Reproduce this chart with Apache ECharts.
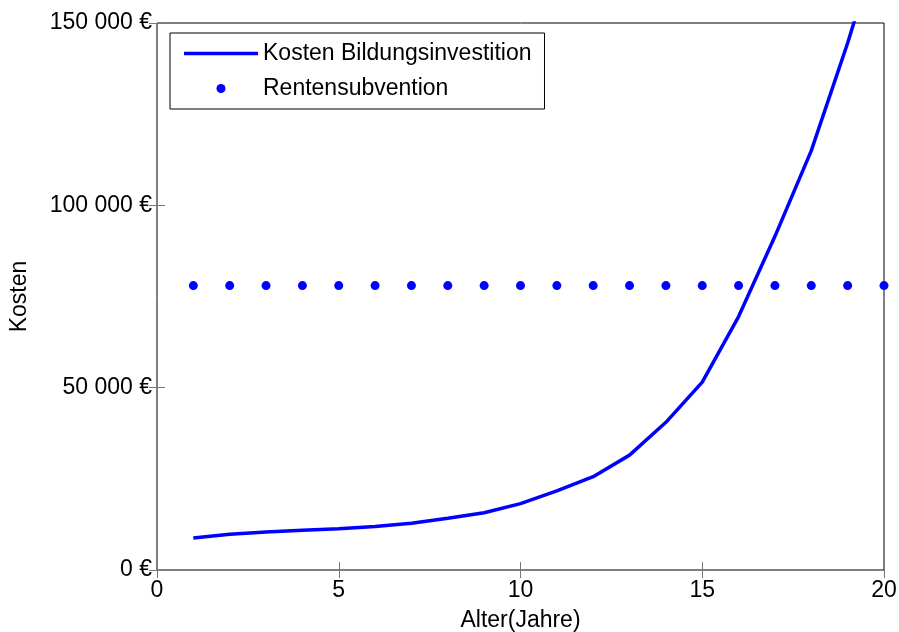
<!DOCTYPE html>
<html><head><meta charset="utf-8">
<script src="https://cdn.jsdelivr.net/npm/echarts@6/dist/echarts.min.js"></script>
<style>html,body{margin:0;padding:0;background:#fff;overflow:hidden}#c{width:899px;height:632px}</style>
</head><body><div id="c"></div>
<script>
const ages = [1,2,3,4,5,6,7,8,9,10,11,12,13,14,15,16,17,18,19,20];
const kostenBildung = [8800,9800,10400,10900,11300,11900,12800,14200,15700,18200,21700,25600,31500,40500,51500,69500,91500,115000,144500,177000];
const rentenSubvention = [78000,78000,78000,78000,78000,78000,78000,78000,78000,78000,78000,78000,78000,78000,78000,78000,78000,78000,78000,78000];
const seriesNames = ['Kosten Bildungsinvestition','Rentensubvention'];
const xLabel = 'Alter(Jahre)';
const yLabel = 'Kosten';

const FONT = 'Liberation Sans, Arial, sans-serif';
const FS = 23;
const fmtEuro = v => {
  const s = String(Math.round(v));
  return s.replace(/\B(?=(\d{3})+(?!\d))/g, ' ') + ' €';
};
const chart = echarts.init(document.getElementById('c'), null, {renderer:'canvas', width:899, height:632});
const tick = () => ({show:true, inside:true, length:8, lineStyle:{color:'#777', width:1}});
chart.setOption({
  animation:false,
  backgroundColor:'#fff',
  textStyle:{fontFamily:FONT},
  grid:{left:157, right:15, top:23, bottom:62, containLabel:false, outerBoundsMode:'none',
        show:true, borderColor:'#000', borderWidth:1, backgroundColor:'transparent'},
  legend:{
    orient:'vertical', left:170, top:33,
    backgroundColor:'#fff', borderColor:'#000', borderWidth:1,
    padding:[9, 13, 9, 14], itemGap:12, itemWidth:74, itemHeight:9,
    textStyle:{fontFamily:FONT, fontSize:FS, color:'#000'},
    data:[
      {name:seriesNames[0], icon:'path://M0 0 H72 V3.5 H0 Z', itemStyle:{color:'#0000ff'}},
      {name:seriesNames[1], icon:'circle', itemStyle:{color:'#0000ff'}}
    ]
  },
  xAxis:[{
    type:'value', min:0, max:20, interval:5, position:'bottom',
    name:xLabel, nameLocation:'middle', nameGap:39,
    nameTextStyle:{fontFamily:FONT, fontSize:FS, color:'#000'},
    axisLine:{show:false}, axisTick:tick(), splitLine:{show:false},
    axisLabel:{fontFamily:FONT, fontSize:FS, color:'#000', margin:9}
  },{
    type:'value', min:0, max:20, interval:5, position:'top',
    axisLine:{show:false}, axisTick:tick(), splitLine:{show:false}, axisLabel:{show:false}
  }],
  yAxis:[{
    type:'value', min:0, max:150000, interval:50000, position:'left',
    name:yLabel, nameLocation:'middle', nameGap:126, nameRotate:90,
    nameTextStyle:{fontFamily:FONT, fontSize:FS, color:'#000'},
    axisLine:{show:false}, axisTick:tick(), splitLine:{show:false},
    axisLabel:{fontFamily:FONT, fontSize:FS, color:'#000', margin:5, formatter:fmtEuro}
  },{
    type:'value', min:0, max:150000, interval:50000, position:'right',
    axisLine:{show:false}, axisTick:tick(), splitLine:{show:false}, axisLabel:{show:false}
  }],
  series:[{
    name:seriesNames[0], type:'line', xAxisIndex:0, yAxisIndex:0,
    data:ages.map((a,i)=>[a,kostenBildung[i]]),
    symbol:'none', clip:true,
    lineStyle:{color:'#0000ff', width:3.5}, itemStyle:{color:'#0000ff'}
  },{
    name:seriesNames[1], type:'scatter', xAxisIndex:0, yAxisIndex:0,
    data:ages.map((a,i)=>[a,rentenSubvention[i]]),
    symbol:'circle', symbolSize:9, clip:false,
    itemStyle:{color:'#0000ff', opacity:1}
  },{
    type:'line', xAxisIndex:1, yAxisIndex:1, data:[], silent:true
  }]
});
</script></body></html>
